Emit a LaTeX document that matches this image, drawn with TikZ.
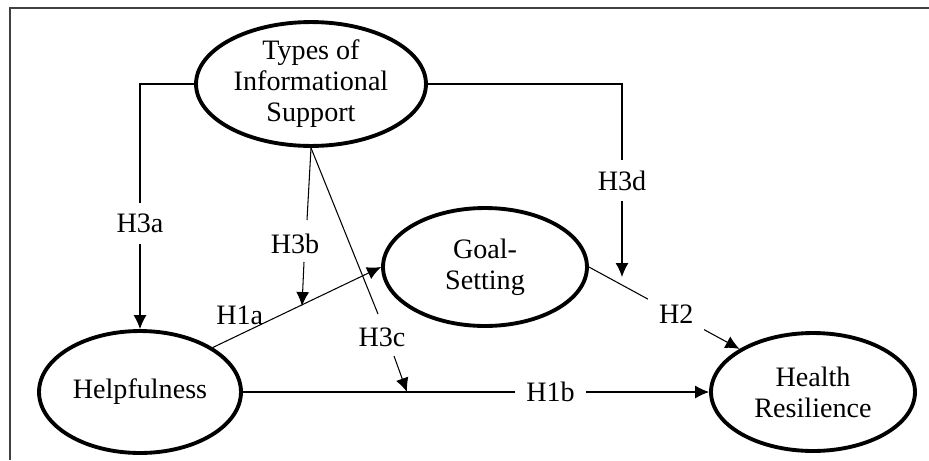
\documentclass[tikz,border=0pt]{standalone}
\usepackage{fontspec}
\setmainfont{Liberation Serif}
\usetikzlibrary{shapes.geometric,arrows.meta}

\begin{document}
\begin{tikzpicture}[x=0.02cm,y=-0.02cm,
        font=\fontsize{16}{17.6}\selectfont,
        latent/.style={draw,ellipse,line width=2.2pt,align=center,inner sep=0pt},
        path/.style={line width=0.6pt,-{Latex[length=0.28cm,width=0.26cm]}},
        gap/.style={fill=white,inner sep=0.22cm}]

    \useasboundingbox (0,0) rectangle (929,460);
    \draw[line width=1.2pt,black!75] (10,460) -- (10,8) -- (929,8);

    % constructs
    \node[latent,minimum width=4.6cm,minimum height=2.4cm] (types) at (311,84) {Types of\\Informational\\Support};
    \node[latent,minimum width=4.04cm,minimum height=2.44cm] (help) at (140,392) {Helpfulness};
    \node[latent,minimum width=4.08cm,minimum height=2.36cm] (goal) at (485,267) {Goal-\\Setting};
    \node[latent,minimum width=4.08cm,minimum height=2.36cm] (health) at (813,392) {Health\\Resilience};

    % moderator labels and ends
    \node (h3b) at (295,244) {H3b};
    \node (h3c) at (382,337) {H3c};
    \coordinate (b1) at (307,220);
    \coordinate (b2) at (304,262);
    \coordinate (btip) at (302,306);
    \coordinate (c1) at (378,314);
    \coordinate (c2) at (394,356);
    \coordinate (ctip) at (407,392);
    \coordinate (dtip) at (622,277);

    % paths
    \draw[path] (help.north east) -- node[pos=0.16,above=0.19cm,inner sep=0pt] {H1a} (goal.west);
    \draw[path] (help.east) -- node[pos=0.66,gap] {H1b} (health.west);
    \draw[path] (goal.east) -- node[pos=0.58,gap] {H2} (health.north west);

    \draw[path] (types.west) -| node[pos=0.785,gap] {H3a} (help.north);
    \draw[line width=0.6pt] (types.south) -- (b1);
    \draw[path] (b2) -- (btip);
    \draw[line width=0.6pt] (types.south) -- (c1);
    \draw[path] (c2) -- (ctip);
    \draw[path] (types.east) -| node[pos=0.75,gap] {H3d} (dtip);
\end{tikzpicture}
\end{document}
